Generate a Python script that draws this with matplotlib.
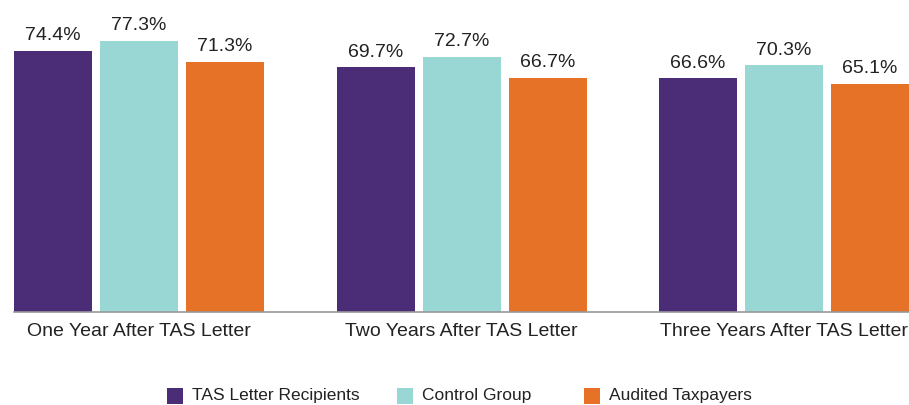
import matplotlib
matplotlib.use("Agg")
import matplotlib.pyplot as plt
import numpy as np
from matplotlib.patches import Rectangle

categories = ["One Year After TAS Letter", "Two Years After TAS Letter", "Three Years After TAS Letter"]
series_names = ["TAS Letter Recipients", "Control Group", "Audited Taxpayers"]
tas = [74.4, 69.7, 66.6]
control = [77.3, 72.7, 70.3]
audited = [71.3, 66.7, 65.1]
colors = ["#4B2C76", "#99D7D5", "#E57226"]

plt.rcParams['font.family'] = ['Liberation Sans', 'DejaVu Sans']

W, H = 909, 405
fig = plt.figure(figsize=(W/100, H/100), dpi=100)
ax = fig.add_axes([14/W, (H-312)/H, 895/W, 312/H])

x = np.arange(len(categories))
step = 86/322.5
width = 78/322.5
for i, (vals, c) in enumerate(zip([tas, control, audited], colors)):
    pos = x + (i-1)*step
    ax.bar(pos, vals, width=width, color=c, label=series_names[i])
    for p, v in zip(pos, vals):
        ax.text(p, v + 1.9, f"{v:.1f}%", ha='center', va='bottom', fontsize=14, color='#222222')

ax.set_xlim(-125/322.5, 2 + 125/322.5)
ax.set_ylim(0, 88.9)
ax.set_yticks([])
ax.set_xticks(x)
ax.set_xticklabels(categories, fontsize=14, color='#222222')
ax.tick_params(axis='x', length=0, pad=8)
for s in ['top', 'right', 'left']:
    ax.spines[s].set_visible(False)
ax.spines['bottom'].set_color('#999999')
ax.spines['bottom'].set_linewidth(1.2)

# legend drawn manually in figure pixel coordinates
leg_x = [167, 397, 584]
sq = 16
yc = H - 395.5
for xx, c, name in zip(leg_x, colors, series_names):
    fig.patches.append(Rectangle((xx/W, (yc - sq/2)/H), sq/W, sq/H, transform=fig.transFigure,
                                 facecolor=c, edgecolor='none'))
    fig.text((xx + sq + 9)/W, yc/H, name, ha='left', va='center', fontsize=12.5, color='#222222')

fig.savefig("out.png", dpi=100)
